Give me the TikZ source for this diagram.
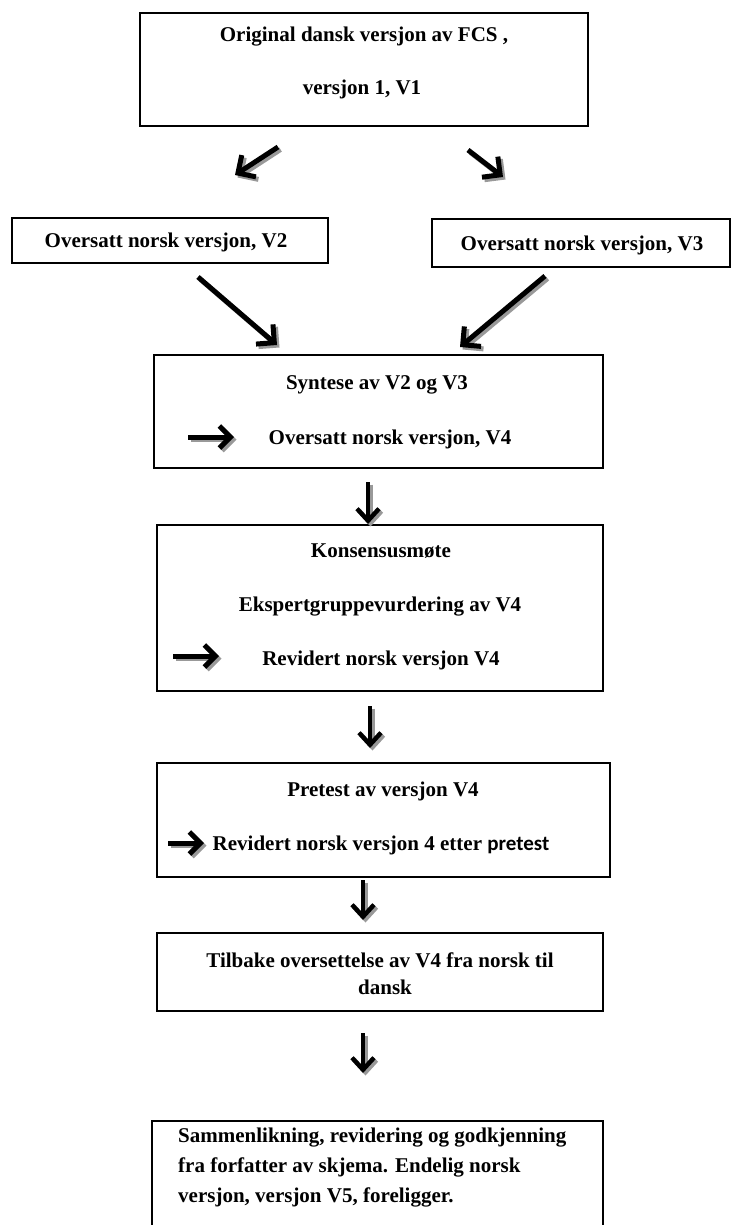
\documentclass[tikz,border=0pt]{standalone}
\usepackage{fontspec}
\setmainfont{Liberation Serif}
\newfontfamily\calibri{Carlito}
\usetikzlibrary{arrows.meta}
\tikzset{
  box/.style={draw=black, line width=1.3pt, inner sep=0pt},
  lbl/.style={font=\bfseries\fontsize{21}{25}\selectfont, anchor=base, inner sep=0pt},
  lblw/.style={lbl, anchor=base west},
  arr/.style={line width=5pt, -{Straight Barb[length=13pt,width=26pt]}},
  arrsh/.style={arr, draw=black!40},
  varr/.style={line width=4.5pt, -{Straight Barb[length=12pt,width=22pt]}},
  varrsh/.style={varr, draw=black!40},
  harr/.style={line width=5pt, -{Straight Barb[length=11pt,width=22pt]}},
  harrsh/.style={harr, draw=black!40}
}
\newcommand\sarr[3]{%
  \draw[#1sh] ([shift={(2.5,2.5)}]#2) -- ([shift={(2.5,2.5)}]#3);
  \draw[#1] (#2) -- (#3);}
\begin{document}
\begin{tikzpicture}[x=1pt,y=-1pt]
\useasboundingbox (0,0) rectangle (740,1225);
\clip (0,0) rectangle (740,1225);

% boxes
\node[box, minimum width=448pt, minimum height=113pt] (b1) at (364,69.5) {};
\node[box, minimum width=316pt, minimum height=45pt] (b2) at (170,240.5) {};
\node[box, minimum width=298pt, minimum height=48pt] (b3) at (581,243) {};
\node[box, minimum width=449pt, minimum height=113pt] (b4) at (378.5,411.5) {};
\node[box, minimum width=446pt, minimum height=166pt] (b5) at (380,608) {};
\node[box, minimum width=453pt, minimum height=114pt] (b6) at (383.5,820) {};
\node[box, minimum width=446pt, minimum height=78pt] (b7) at (380,972) {};
\node[box, minimum width=451pt, minimum height=160pt] (b8) at (377.5,1201) {};

% texts
\node[lbl] (t1a) at (364,42) {Original dansk versjon av FCS ,};
\node[lbl] (t1b) at (362,95) {versjon 1, V1};
\node[lbl] (t2) at (166,247) {Oversatt norsk versjon, V2};
\node[lbl] (t3) at (582,250) {Oversatt norsk versjon, V3};
\node[lbl] (t4a) at (377,389) {Syntese av V2 og V3};
\node[lbl] (t4b) at (390,444) {Oversatt norsk versjon, V4};
\node[lbl] (t5a) at (381,557) {Konsensusmøte};
\node[lbl] (t5b) at (380,611) {Ekspertgruppevurdering av V4};
\node[lbl] (t5c) at (381,665) {Revidert norsk versjon V4};
\node[lbl] (t6a) at (383,796) {Pretest av versjon V4};
\node[lbl] (t6b) at (381,850) {Revidert norsk versjon 4 etter {\calibri pretest}};
\node[lbl] (t7a) at (380,967) {Tilbake oversettelse av V4 fra norsk til};
\node[lbl] (t7b) at (385,994) {dansk};
\node[lblw] (t8a) at (178,1142) {Sammenlikning, revidering og godkjenning};
\node[lblw] (t8b) at (178,1172) {fra forfatter av skjema. Endelig norsk};
\node[lblw] (t8c) at (178,1202) {versjon, versjon V5, foreligger.};

% arrow end points
\coordinate (a1s) at (278,147); \coordinate (a1e) at (235,175);
\coordinate (a2s) at (468,150); \coordinate (a2e) at (503,177);
\coordinate (a3s) at (198,277); \coordinate (a3e) at (277,345);
\coordinate (a4s) at (545,276); \coordinate (a4e) at (460,347);
\coordinate (v1s) at (368,482); \coordinate (v1e) at (368,524);
\coordinate (v2s) at (370,706); \coordinate (v2e) at (370,748);
\coordinate (v3s) at (363,880); \coordinate (v3e) at (363,920);
\coordinate (v4s) at (363,1033); \coordinate (v4e) at (363,1073);
\coordinate (h1s) at (188,437); \coordinate (h1e) at (234,437);
\coordinate (h2s) at (173,656); \coordinate (h2e) at (219,656);
\coordinate (h3s) at (168,843); \coordinate (h3e) at (204,843);

\sarr{arr}{a1s}{a1e}
\sarr{arr}{a2s}{a2e}
\sarr{arr}{a3s}{a3e}
\sarr{arr}{a4s}{a4e}
\sarr{varr}{v1s}{v1e}
\sarr{varr}{v2s}{v2e}
\sarr{varr}{v3s}{v3e}
\sarr{varr}{v4s}{v4e}
\sarr{harr}{h1s}{h1e}
\sarr{harr}{h2s}{h2e}
\sarr{harr}{h3s}{h3e}
\end{tikzpicture}
\end{document}
